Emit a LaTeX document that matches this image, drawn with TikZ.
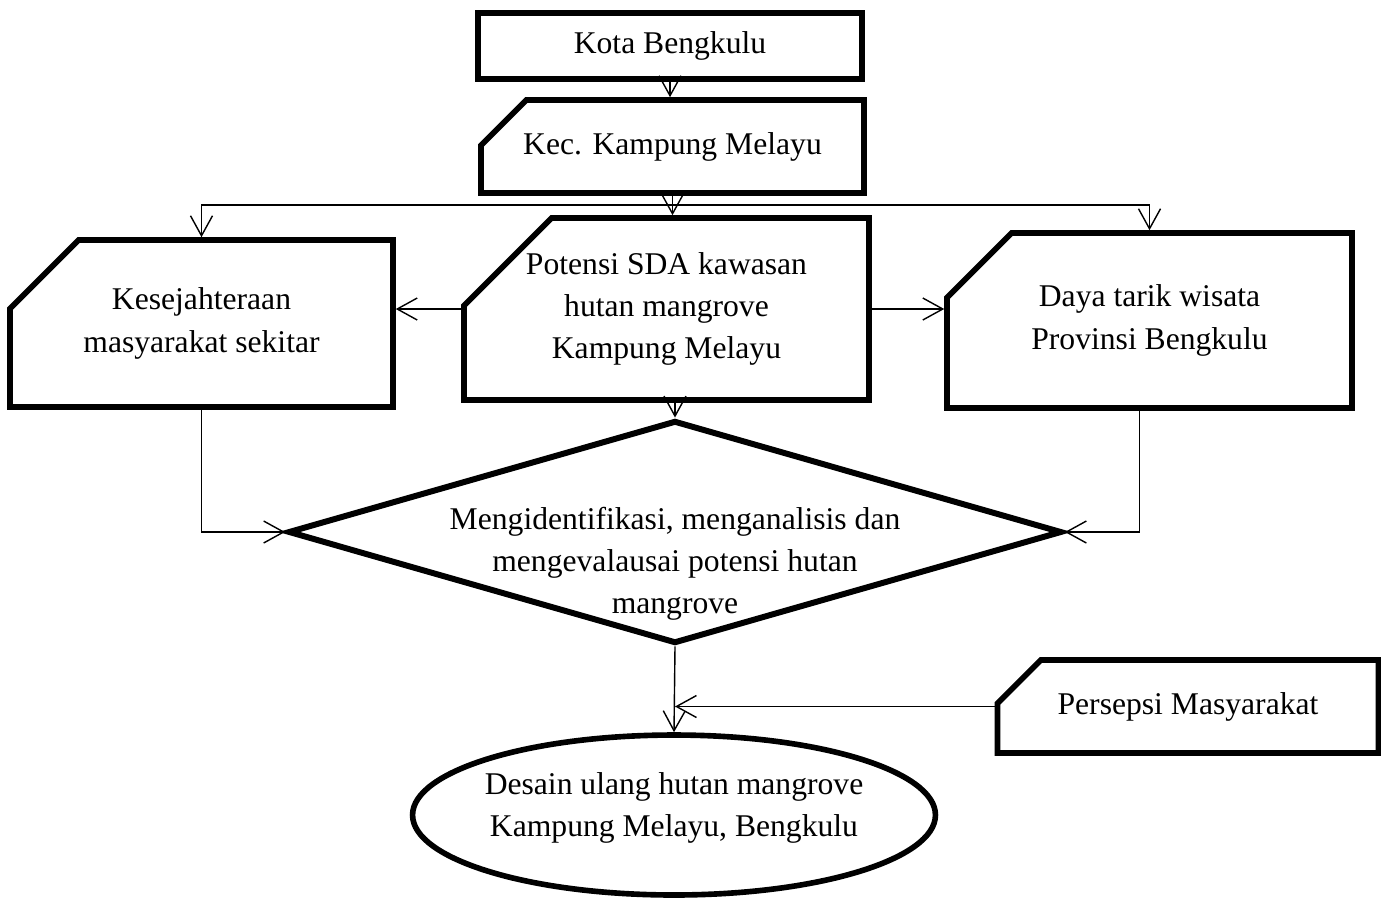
\documentclass[tikz,border=0pt]{standalone}
\usepackage{fontspec}
\setmainfont{Liberation Serif}
\usetikzlibrary{shapes.geometric, shapes.misc, arrows.meta}

\begin{document}
\begin{tikzpicture}[
    x=0.02cm, y=-0.02cm,
    every node/.style={font=\fontsize{18}{24}\selectfont, align=center, inner sep=0pt},
    box/.style={rectangle, draw, line width=3.2pt},
    cutbox/.style={chamfered rectangle, chamfered rectangle corners=north west, draw, line width=3.2pt, inner ysep=-0.6cm},
    decision/.style={diamond, draw, line width=3.4pt, minimum width=15.48cm, minimum height=4.46cm},
    result/.style={ellipse, draw, line width=3.2pt, minimum width=10.46cm, minimum height=3.2cm},
    arrow/.style={-{Straight Barb[length=4mm, width=4.4mm]}, line width=0.8pt}
]
\useasboundingbox (0,0) rectangle (1381,900);

\node[box, minimum width=7.68cm, minimum height=1.32cm] (kota) at (670,46) {Kota Bengkulu};
\node[cutbox, inner ysep=-0.22cm, chamfered rectangle xsep=0.84cm, chamfered rectangle ysep=0.84cm,
      minimum width=7.66cm, minimum height=1.86cm] (kec) at (672.5,146.5) {Kec. Kampung Melayu};

\node[cutbox, chamfered rectangle xsep=1.3cm, chamfered rectangle ysep=1.26cm,
      minimum width=7.66cm, minimum height=3.34cm] (kes) at (201.5,323.5) {Kesejahteraan\\masyarakat sekitar};
\node[cutbox, chamfered rectangle xsep=1.26cm, chamfered rectangle ysep=1.22cm,
      minimum width=8.1cm, minimum height=3.64cm] (pot) at (666.5,309) {Potensi SDA kawasan\\hutan mangrove\\Kampung Melayu};
\node[cutbox, chamfered rectangle xsep=1.2cm, chamfered rectangle ysep=1.18cm,
      minimum width=8.1cm, minimum height=3.5cm] (daya) at (1149.5,320.5) {Daya tarik wisata\\Provinsi Bengkulu};

\node[decision, label={[yshift=-0.64cm]center:{Mengidentifikasi, menganalisis dan\\mengevalausai potensi hutan\\mangrove}}] (ident) at (675,532) {};

\node[cutbox, inner ysep=-0.22cm, chamfered rectangle xsep=0.8cm, chamfered rectangle ysep=0.8cm,
      minimum width=7.62cm, minimum height=1.86cm] (persepsi) at (1188,706.5) {Persepsi Masyarakat};

\node[result, label={[yshift=0.14cm]center:{Desain ulang hutan mangrove\\Kampung Melayu, Bengkulu}}] (desain) at (674,815) {};

\coordinate (split) at ([yshift=-0.18cm]kec.south);

\draw[arrow] (kota.south) -- (kota.south |- kec.north);
\draw[arrow] (kec.south) -- (kec.south |- pot.north);
\draw[arrow] (split) -| (kes.north);
\draw[arrow] (split) -| (daya.north);
\draw[arrow] (pot.west) -- (pot.west -| kes.east);
\draw[arrow] (pot.east) -- (pot.east -| daya.west);
\draw[arrow] (ident.north |- pot.south) -- (ident.north);
\draw[arrow] (kes.south) |- (ident.west);
\draw[arrow] ([xshift=-0.2cm]daya.south) |- (ident.east);
\draw[arrow] (ident.south) -- (desain.north);
\draw[arrow] (persepsi.west) -- (persepsi.west -| ident.south);
\end{tikzpicture}
\end{document}
